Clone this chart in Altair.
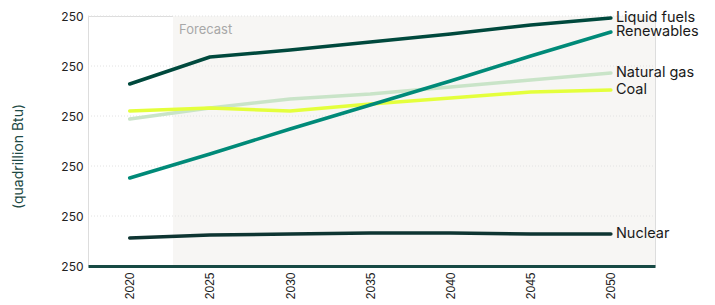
import altair as alt
import pandas as pd

years = [2020, 2025, 2030, 2035, 2040, 2045, 2050]
series_names = ["Natural gas", "Coal", "Nuclear", "Renewables", "Liquid fuels"]
liquid_fuels = [182, 209, 216, 224, 232, 241, 248]
renewables = [88, 112, 137, 161, 185, 210, 234]
natural_gas = [147, 158, 167, 172, 179, 186, 193]
coal = [155, 158, 155, 162, 168, 174, 176]
nuclear = [28, 31, 32, 33, 33, 32, 32]
series_colors = ["#c9e4c8", "#e4ff3c", "#0e3532", "#008a78", "#00493d"]
y_ticks = [0, 50, 100, 150, 200, 250]
y_tick_labels = ["250", "250", "250", "250", "250", "250"]
forecast_start = 2022.7
forecast_label = "Forecast"

values = {
    "Natural gas": natural_gas,
    "Coal": coal,
    "Nuclear": nuclear,
    "Renewables": renewables,
    "Liquid fuels": liquid_fuels,
}
rows = []
for s in series_names:
    for yr, v in zip(years, values[s]):
        rows.append({"series": s, "year": yr, "value": v})
df = pd.DataFrame(rows)

W, H = 567, 250
x_scale = alt.Scale(domain=[2017.4, 2052.75], nice=False, zero=False)
y_scale = alt.Scale(domain=[0, 250], nice=False)

label_map = "{" + ",".join(f"'{t}':'{l}'" for t, l in zip(y_ticks, y_tick_labels)) + "}"

base = alt.Chart(df)

forecast = alt.Chart(pd.DataFrame({"x": [forecast_start], "label": [forecast_label]}))
rect = forecast.mark_rect(color="#f7f6f4").encode(
    x=alt.X("x:Q", scale=x_scale,
            axis=alt.Axis(values=years, format="d", labelAngle=-90, title=None,
                          ticks=False, grid=False, domain=True, domainColor="#174a44",
                          domainWidth=3, zindex=2,
                          labelFont="Liberation Sans", labelFontSize=12, labelColor="#222",
                          labelPadding=6)),
    x2=alt.value(W),
    y=alt.value(0),
    y2=alt.value(H),
)
ftext = forecast.mark_text(align="left", baseline="middle", dx=6, font="Inter",
                           fontSize=13, color="#a8a8a8").encode(
    x=alt.X("x:Q", scale=x_scale),
    y=alt.value(14),
    text="label:N",
)

grid = alt.Chart(pd.DataFrame({"t": y_ticks[1:]})).mark_rule(
    color="#e2e2e2", strokeDash=[1, 2], strokeWidth=1
).encode(
    y=alt.Y("t:Q", scale=y_scale,
            axis=alt.Axis(values=y_ticks, labelExpr=f"{label_map}[datum.value]",
                          title="(quadrillion Btu)", titleFont="Inter", titleFontSize=14,
                          titleFontWeight="normal", titleColor="#1d4a45",
                          titleAngle=270, titleAlign="center", titleBaseline="middle",
                          titleX=-70, titleY=140,
                          labelFont="Inter", labelFontSize=12, labelColor="#222",
                          labelPadding=5, ticks=False, domain=False, grid=False)),
    x=alt.value(0),
    x2=alt.value(W),
)

layers = [rect, grid, ftext]
for s, c in zip(series_names, series_colors):
    sub = base.transform_filter(alt.datum.series == s)
    line = sub.mark_line(color=c, strokeWidth=3.5, strokeCap="round",
                         strokeJoin="round").encode(
        x=alt.X("year:Q", scale=x_scale),
        y=alt.Y("value:Q", scale=y_scale),
    )
    txt = sub.transform_filter(alt.datum.year == years[-1]).mark_text(
        align="left", baseline="middle", dx=5, font="Inter", fontSize=14.5, color="#1a1a1a"
    ).encode(
        x=alt.X("year:Q", scale=x_scale),
        y=alt.Y("value:Q", scale=y_scale),
        text="series:N",
    )
    layers += [line, txt]

chart = alt.layer(*layers).properties(
    width=W, height=H,
    autosize=alt.AutoSizeParams(type="none"),
    padding={"left": 80, "top": 8, "right": 52, "bottom": 37},
).configure_view(stroke=None, strokeWidth=0).configure_axis(
    grid=False, domain=False, ticks=False
).configure(background="white")

chart.save("out.html", embed_options={"renderer": "svg", "actions": False})
